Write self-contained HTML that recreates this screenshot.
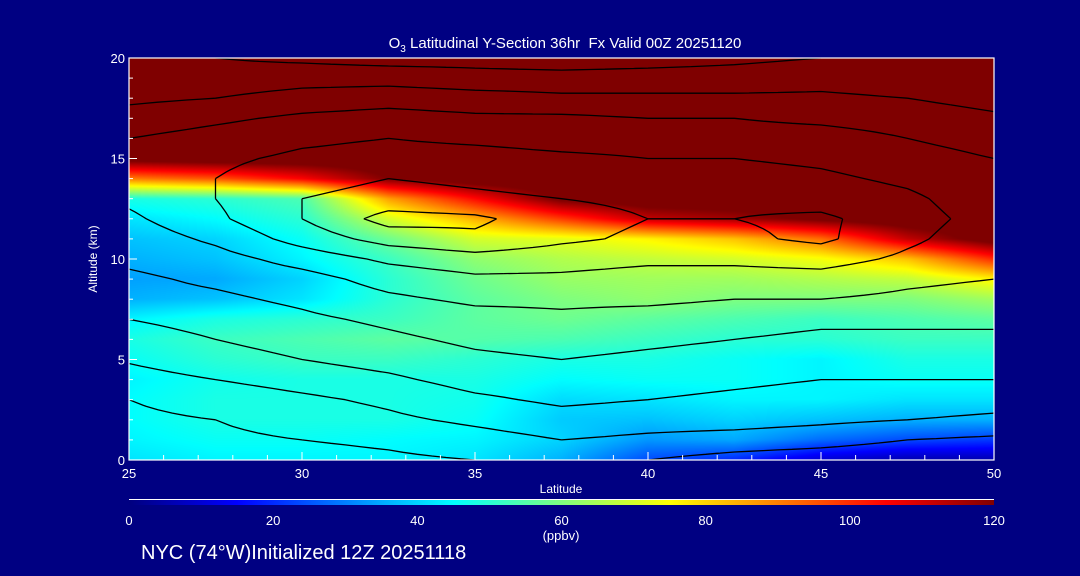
<!DOCTYPE html>
<html><head><meta charset="utf-8">
<style>
html,body{margin:0;padding:0;background:#000082;}
#wrap{position:relative;width:1080px;height:576px;background:#000082;overflow:hidden;font-family:"Liberation Sans",sans-serif;color:#fff;}
.t{position:absolute;white-space:nowrap;color:#fff;}
</style></head>
<body>
<div id="wrap">
<div class="t" style="left:0;width:1130px;text-align:center;top:35px;font-size:15px;">O<sub style="font-size:10px">3</sub> Latitudinal Y-Section 36hr&nbsp; Fx Valid 00Z 20251120</div>
<canvas id="plot" width="865" height="402" style="position:absolute;left:129px;top:58px;"></canvas>
<svg id="axes" width="1080" height="576" style="position:absolute;left:0;top:0;"></svg>
<div class="t" style="left:93px;top:259px;font-size:12px;transform:translate(-50%,-50%) rotate(-90deg);">Altitude (km)</div>
<div class="t" style="left:561px;top:482px;font-size:12px;transform:translateX(-50%);">Latitude</div>
<div class="t" style="left:561px;top:528px;font-size:13px;transform:translateX(-50%);">(ppbv)</div>
<div class="t" style="left:141px;top:542px;font-size:20px;">NYC (74°W)Initialized 12Z 20251118</div>
</div>
<script>
const lats=[25,27.5,30,32.5,35,37.5,40,42.5,45,47.5,50];
const alts=[0,1,2,3,4,5,6,7,8,9,10,11,12,13,14,15,16,20];
const ozone=[
[42,44,44,44,42,36,24,20,10,6,6],
[44,46,46,45,44,40,33,35,28,24,22],
[45,48,48,48,46,39,38,40,38,36,36],
[45,48,48,48,47,41,42,44,44,42,42],
[44,47,48,48,48,45,46,46,44,46,46],
[46,50,52,52,50,48,48,46,44,48,48],
[48,52,54,56,55,54,52,50,50,52,52],
[44,48,50,52,56,58,56,54,52,54,56],
[36,38,42,50,56,60,62,60,60,60,64],
[34,35,40,50,58,63,64,64,66,68,76],
[36,38,44,52,62,66,68,70,74,82,100],
[38,40,46,58,70,72,76,82,92,112,125],
[42,45,50,70,84,98,112,116,122,126,126],
[48,50,54,86,104,122,126,126,126,126,126],
[90,95,105,120,126,126,126,126,126,126,126],
[124,126,126,126,126,126,126,126,126,126,126],
[126,126,126,126,126,126,126,126,126,126,126],
[126,126,126,126,126,126,126,126,126,126,126]];
const windAlts=[0,1,2,3,4,5,6,7,8,9,10,11,12,13,14,15,16,17,18,19,20];
const wind=[
[-4,-3,-2,-1,0,2,0,-2,-3,-4,-4],
[-2,-1,0,1,3,5,4,3,2,0,-1],
[-1,0,2,4,6,8,7,7,6,5,4],
[0,2,4,6,9,11,10,9,8,8,7],
[3,5,7,9,12,13,12,11,10,10,10],
[5.5,8,10,12,14,15,14,13,12,12,12],
[7.5,10,12,14,16,17,16,15,14,14,14],
[10,12,14,16,18,19,18,17,16,16,16],
[13,14,16,19,21,21,21,20,20,19,18],
[14,16,18,22,24,24,23,23,23,21,20],
[16,18,22,26,28,27,26,26,27,24,21],
[17,21,27,32,34,31,29,29,31,26,22],
[19,24,30,37,36,32,30,30,31,27,23],
[21,25,30,32,31,30,29,29,28,26,22],
[23,25,28,30,29,28,27,27,26,24,21],
[22,24,26,27,27,26,25,25,24,22,20],
[20,22,24,25,24,23,23,22,22,20,18],
[17,19,21,22,21,21,20,20,19,18,16],
[14,15,17,18,17,16,16,16,16,15,13],
[12,12,13,13,12,12,12,12,13,12,11],
[11,10,9,8,8,7,8,9,10,10,10]];
const contourLevels=[-5,0,5,10,15,20,25,30,35];
const xTicks=[25,30,35,40,45,50];
const yTicks=[0,5,10,15,20];
const cbTicks=[0,20,40,60,80,100,120];

const PX0=129,PX1=994,PY0=58,PY1=460,CB0=129,CB1=994;
const xs=v=>PX0+(v-25)/25*(PX1-PX0);
const ys=v=>PY1-(v/20)*(PY1-PY0);
function jet(v){let t=Math.max(0,Math.min(1,v/120));
 const r=Math.max(0,Math.min(1,Math.min(4*t-1.5,-4*t+4.5)));
 const g=Math.max(0,Math.min(1,Math.min(4*t-0.5,-4*t+3.5)));
 const b=Math.max(0,Math.min(1,Math.min(4*t+0.5,-4*t+2.5)));
 return [r*255|0,g*255|0,b*255|0];}
function idx(arr,v){let i=0;while(i<arr.length-2&&v>arr[i+1])i++;return [i,(v-arr[i])/(arr[i+1]-arr[i])];}
function interp(grid,ya,la,al){const [i,fx]=idx(lats,la),[j,fy]=idx(ya,al);
 const a=grid[j][i],b=grid[j][i+1],c=grid[j+1][i],d=grid[j+1][i+1];
 return (a*(1-fx)+b*fx)*(1-fy)+(c*(1-fx)+d*fx)*fy;}
const cv=document.getElementById('plot'),ctx=cv.getContext('2d');
const W=cv.width,H=cv.height,img=ctx.createImageData(W,H);
for(let y=0;y<H;y++){const al=20-(y/(H-1))*20;for(let x=0;x<W;x++){const la=25+x/(W-1)*25;
 const c=jet(interp(ozone,alts,la,al));const k=(y*W+x)*4;img.data[k]=c[0];img.data[k+1]=c[1];img.data[k+2]=c[2];img.data[k+3]=255;}}
ctx.putImageData(img,0,0);

const svg=document.getElementById('axes'),NS='http://www.w3.org/2000/svg';
function mk(tag,at){const e=document.createElementNS(NS,tag);for(const k in at)e.setAttribute(k,at[k]);svg.appendChild(e);return e;}

const NX=60,NY=60;
const F=[];for(let j=0;j<=NY;j++){F[j]=[];for(let i=0;i<=NX;i++){F[j][i]=interp(wind,windAlts,25+25*i/NX,20*j/NY);}}
contourLevels.forEach(L=>{let d='';
 for(let j=0;j<NY;j++)for(let i=0;i<NX;i++){
  const pts=[];const c=[[i,j],[i+1,j],[i+1,j+1],[i,j+1]];
  for(let e=0;e<4;e++){const p=c[e],q=c[(e+1)%4];const a=F[p[1]][p[0]],b=F[q[1]][q[0]];
   if((a<L)!==(b<L)){const t=(L-a)/(b-a);const gi=p[0]+(q[0]-p[0])*t,gj=p[1]+(q[1]-p[1])*t;
    pts.push([xs(25+25*gi/NX),ys(20*gj/NY)]);}}
  for(let k=0;k+1<pts.length;k+=2)d+='M'+pts[k][0].toFixed(1)+' '+pts[k][1].toFixed(1)+'L'+pts[k+1][0].toFixed(1)+' '+pts[k+1][1].toFixed(1);}
 const p=mk('path',{d:d,stroke:'#000','stroke-width':1.3,fill:'none','stroke-dasharray':L<0?'2 4':'none'});
 
 });

const fr=mk('rect',{x:PX0,y:PY0,width:PX1-PX0,height:PY1-PY0,fill:'none',stroke:'#fff','stroke-width':1.2});


for(let l=25;l<=50;l++){const major=l%5===0;const t=mk('line',{x1:xs(l),x2:xs(l),y1:PY1,y2:PY1-(major?8:5),stroke:'#fff'});
 
 }
xTicks.forEach(v=>{const t=mk('text',{x:xs(v),y:478,fill:'#fff','font-size':13,'text-anchor':'middle','font-family':'Liberation Sans'});t.textContent=v;
 
 });
for(let a=0;a<=20;a++){const major=a%5===0;const t=mk('line',{x1:PX0,x2:PX0+(major?8:4),y1:ys(a),y2:ys(a),stroke:'#fff'});
 
 }
yTicks.forEach(v=>{const t=mk('text',{x:125,y:ys(v)+5,fill:'#fff','font-size':13,'text-anchor':'end','font-family':'Liberation Sans'});t.textContent=v;
 
 });
const defs=mk('defs',{});const lg=document.createElementNS(NS,'linearGradient');lg.setAttribute('id','jetg');defs.appendChild(lg);
for(let i=0;i<=24;i++){const c=jet(i*5);const s=document.createElementNS(NS,'stop');s.setAttribute('offset',(i/24*100)+'%');s.setAttribute('stop-color','rgb('+c.join(',')+')');lg.appendChild(s);}
const wl=mk('line',{x1:CB0,x2:CB1,y1:499.5,y2:499.5,stroke:'#fff'});


const cb=mk('rect',{x:CB0,y:500,width:CB1-CB0,height:5,fill:'url(#jetg)'});


cbTicks.forEach(v=>{const t=mk('text',{x:CB0+v/120*(CB1-CB0),y:525,fill:'#fff','font-size':13,'text-anchor':'middle','font-family':'Liberation Sans'});t.textContent=v;
 
 });
</script>
</body></html>
